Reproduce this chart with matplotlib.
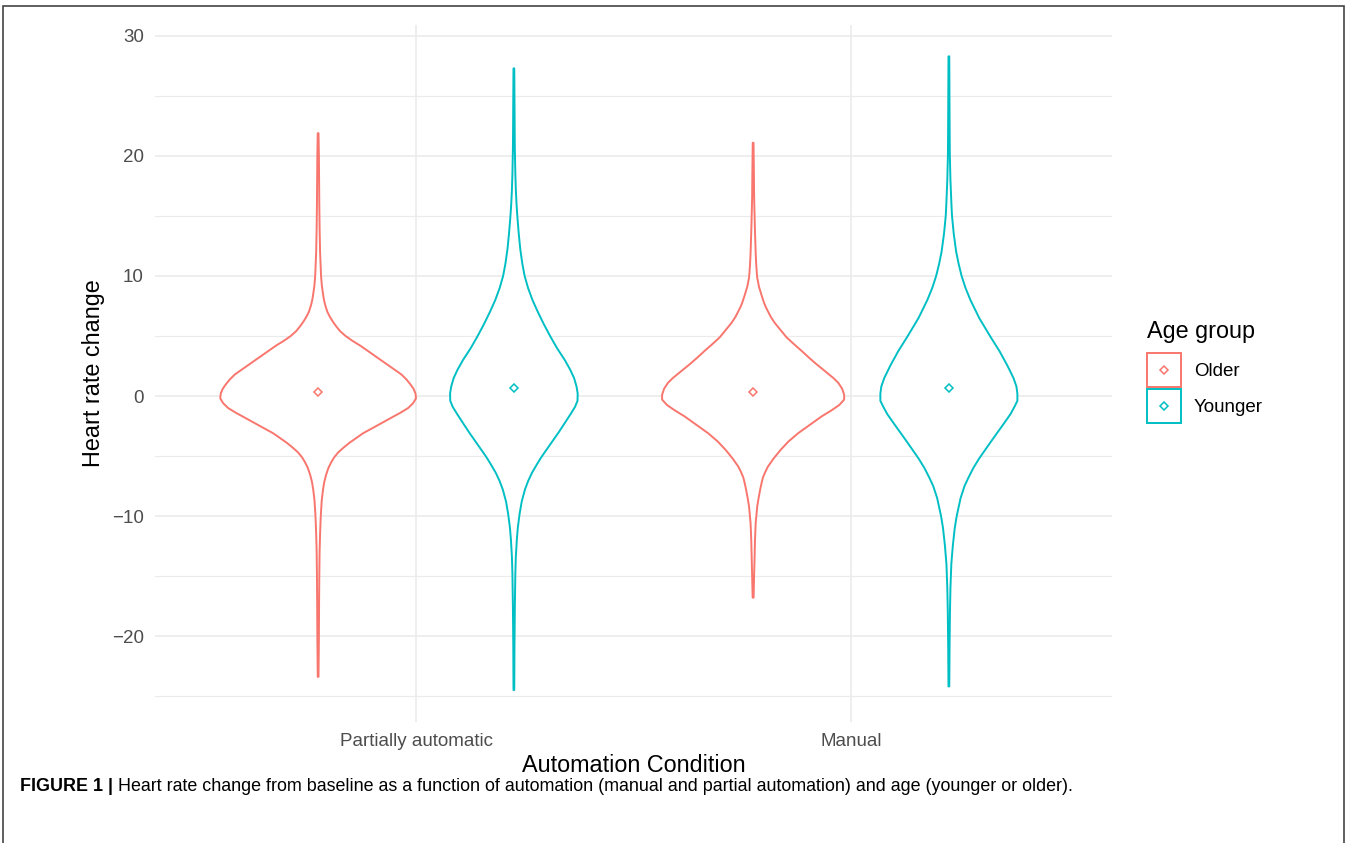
import numpy as np
import matplotlib
matplotlib.use("Agg")
import matplotlib.pyplot as plt
from matplotlib.patches import Rectangle
from matplotlib.lines import Line2D
from matplotlib import font_manager

conditions = ["Partially automatic", "Manual"]
groups = ["Older", "Younger"]
colors = ["#F8766D", "#00BFC4"]

# violin outlines: heart rate value, relative half width (1 = widest)
older_pa_y = [21.9, 20, 18, 16, 14, 12, 11, 10, 9.2, 8.5, 8, 7.5, 7, 6.6, 6.2, 5.8, 5.4, 5.0,
              4.6, 4.2, 3.8, 3.4, 3.0, 2.6, 2.2, 1.8, 1.4, 1.0, 0.6, 0.2, -0.2, -0.6, -1.0,
              -1.4, -1.8, -2.25, -2.7, -3.1, -3.5, -3.9, -4.3, -4.7, -5.1, -5.5, -6.0, -6.6,
              -7.2, -7.8, -8.7, -10, -11.5, -13, -15, -17, -20, -23.4]
older_pa_w = [0.004, 0.008, 0.01, 0.012, 0.015, 0.02, 0.025, 0.03, 0.038, 0.05, 0.06, 0.075,
              0.095, 0.12, 0.15, 0.185, 0.225, 0.28, 0.35, 0.43, 0.5, 0.57, 0.64, 0.71, 0.78,
              0.85, 0.9, 0.94, 0.975, 0.995, 1.0, 0.97, 0.92, 0.84, 0.75, 0.65, 0.55, 0.46,
              0.39, 0.32, 0.26, 0.205, 0.165, 0.135, 0.105, 0.08, 0.062, 0.05, 0.037, 0.027,
              0.02, 0.015, 0.012, 0.01, 0.008, 0.004]

younger_pa_y = [27.3, 25, 22.5, 20.5, 18.5, 17.2, 16, 14.9, 13.5, 12.2, 11, 10, 9, 8, 7, 6, 5,
                4, 3, 2.2, 1.5, 0.8, 0.2, -0.4, -0.9, -1.5, -2.25, -3.0, -3.7, -4.4, -5.1,
                -5.7, -6.4, -7.1, -7.8, -8.8, -9.9, -11, -12, -13.4, -14.8, -17.5, -21, -24.5]
younger_pa_w = [0.004, 0.006, 0.008, 0.01, 0.015, 0.02, 0.027, 0.036, 0.05, 0.066, 0.087,
                0.11, 0.145, 0.19, 0.245, 0.305, 0.37, 0.44, 0.52, 0.575, 0.615, 0.64, 0.652,
                0.65, 0.625, 0.58, 0.52, 0.46, 0.4, 0.34, 0.28, 0.235, 0.185, 0.145, 0.113,
                0.08, 0.057, 0.04, 0.03, 0.02, 0.015, 0.01, 0.006, 0.004]

older_man_y = [21.1, 18.5, 16.6, 14, 11.9, 10.9, 9.9, 9.1, 8.3, 7.8, 7.4, 7.0, 6.6, 6.1, 5.7,
               5.3, 4.9, 4.3, 3.8, 3.2, 2.7, 2.3, 1.9, 1.5, 1.1, 0.6, 0.1, -0.3, -0.75, -1.2,
               -1.7, -2.4, -3.1, -3.8, -4.5, -5.2, -5.9, -6.4, -6.8, -7.3, -7.8, -8.5, -9.2,
               -10.6, -12, -13.4, -15, -16.8]
older_man_w = [0.004, 0.008, 0.01, 0.018, 0.026, 0.032, 0.041, 0.06, 0.09, 0.11, 0.13, 0.155,
               0.18, 0.22, 0.26, 0.3, 0.34, 0.42, 0.49, 0.57, 0.64, 0.7, 0.76, 0.82, 0.87,
               0.91, 0.93, 0.93, 0.88, 0.8, 0.7, 0.58, 0.46, 0.36, 0.28, 0.21, 0.15, 0.12,
               0.1, 0.085, 0.072, 0.056, 0.042, 0.026, 0.019, 0.015, 0.01, 0.005]

younger_man_y = [28.3, 25, 22, 20, 18, 16, 15, 13.5, 12, 11, 10, 9, 8, 6.5, 5, 3.7, 2.5, 1.5,
                 0.8, 0.2, -0.4, -0.9, -1.5, -2.2, -3, -3.8, -4.5, -5.2, -6, -6.8, -7.5,
                 -8.5, -10, -11, -12.5, -14, -16, -18, -21, -24.2]
younger_man_w = [0.004, 0.006, 0.008, 0.01, 0.016, 0.026, 0.032, 0.05, 0.075, 0.1, 0.13,
                 0.17, 0.22, 0.31, 0.42, 0.52, 0.6, 0.66, 0.69, 0.7, 0.7, 0.67, 0.63, 0.57,
                 0.5, 0.43, 0.37, 0.31, 0.25, 0.2, 0.16, 0.12, 0.08, 0.06, 0.04, 0.025,
                 0.016, 0.011, 0.007, 0.004]

mean_older = [0.33, 0.33]
mean_younger = [0.67, 0.67]

violins = [
    (0, 0, older_pa_y, older_pa_w),
    (0, 1, younger_pa_y, younger_pa_w),
    (1, 0, older_man_y, older_man_w),
    (1, 1, younger_man_y, younger_man_w),
]


class ViolinKey:
    # legend key like ggplot's: outlined white box with the mean diamond in the middle
    def legend_artist(self, legend, orig_handle, fontsize, handlebox):
        x0, y0 = -handlebox.xdescent, -handlebox.ydescent
        w, h = handlebox.width, handlebox.height
        c = orig_handle.get_edgecolor()
        tr = handlebox.get_transform()
        box = Rectangle((x0, y0), w, h, facecolor="white", edgecolor=c, lw=1.4, transform=tr)
        dot = Line2D([x0 + w / 2], [y0 + h / 2], ls="none", marker="D", ms=4.2,
                     mfc="none", mec=c, mew=1.1, transform=tr)
        handlebox.add_artist(box)
        handlebox.add_artist(dot)
        return box


names = {f.name for f in font_manager.fontManager.ttflist}
base_font = "Liberation Sans" if "Liberation Sans" in names else "DejaVu Sans"
plt.rcParams["font.family"] = [base_font, "DejaVu Sans"]

W, H = 1352, 843
fig = plt.figure(figsize=(W / 100, H / 100), dpi=100)
ax = fig.add_axes([155 / W, 1 - 721.7 / H, (1112 - 155) / W, (721.7 - 24.7) / H])

dodge = 0.225
xpos = np.arange(1, len(conditions) + 1)
for ci, gi, ys, ws in violins:
    cx = xpos[ci] + (gi - 0.5) * 2 * dodge
    ys = np.array(ys)
    hw = np.array(ws) * dodge
    xs = np.concatenate([cx + hw, (cx - hw)[::-1], [cx + hw[0]]])
    yy = np.concatenate([ys, ys[::-1], [ys[0]]])
    ax.fill(xs, yy, facecolor="white", edgecolor=colors[gi], lw=1.4, zorder=3,
            joinstyle="round")

for gi, m in enumerate([mean_older, mean_younger]):
    ax.plot(xpos + (gi - 0.5) * 2 * dodge, m, ls="none", marker="D", ms=4.2,
            mfc="none", mec=colors[gi], mew=1.1, zorder=4)

ax.set_xlim(0.4, 2.6)
ax.set_ylim(-27.14, 30.94)
ax.set_xticks(xpos)
ax.set_xticklabels(conditions)
ax.set_yticks([-20, -10, 0, 10, 20, 30])
ax.set_yticklabels(["\u221220", "\u221210", "0", "10", "20", "30"])
ax.set_yticks([-25, -15, -5, 5, 15, 25], minor=True)
ax.grid(which="major", color="#EBEBEB", lw=1.2, zorder=0)
ax.grid(which="minor", axis="y", color="#EBEBEB", lw=0.8, zorder=0)
ax.set_axisbelow(True)
for s in ax.spines.values():
    s.set_visible(False)
ax.tick_params(which="both", length=0, labelsize=13.5, labelcolor="#4D4D4D")
ax.tick_params(axis="y", pad=8)
ax.tick_params(axis="x", pad=8)
ax.set_xlabel("Automation Condition", fontsize=16.8, labelpad=3)
ax.set_ylabel("Heart rate change", fontsize=16.8, labelpad=5)

handles = [Rectangle((0, 0), 1, 1, facecolor="white", edgecolor=c) for c in colors]
leg = fig.legend(handles, groups, handler_map={Rectangle: ViolinKey()},
                 loc="upper left", bbox_to_anchor=(1147 / W, 1 - 353 / H),
                 frameon=False, fontsize=13.5, handlelength=1.8, handleheight=2.41,
                 handletextpad=0.7, labelspacing=0.1, borderpad=0, borderaxespad=0)
fig.text(1147 / W, 1 - 338 / H, "Age group", fontsize=16.8, va="baseline", ha="left")

# outer border
fig.add_artist(Rectangle((3 / W, -0.05), (1344 - 3) / W, 1.05 - 6 / H,
                         transform=fig.transFigure, fill=False, ec="#444444", lw=1.2))

t1 = fig.text(20 / W, 1 - 791 / H, "FIGURE 1 |", fontsize=12.9, fontweight="bold",
              va="baseline")
ax.annotate(" Heart rate change from baseline as a function of automation (manual and "
            "partial automation) and age (younger or older).",
            xy=(1, 0), xycoords=t1, xytext=(0, 0), textcoords="offset points",
            fontsize=12.9, va="bottom", ha="left", annotation_clip=False)

fig.savefig("out.png", dpi=100)
